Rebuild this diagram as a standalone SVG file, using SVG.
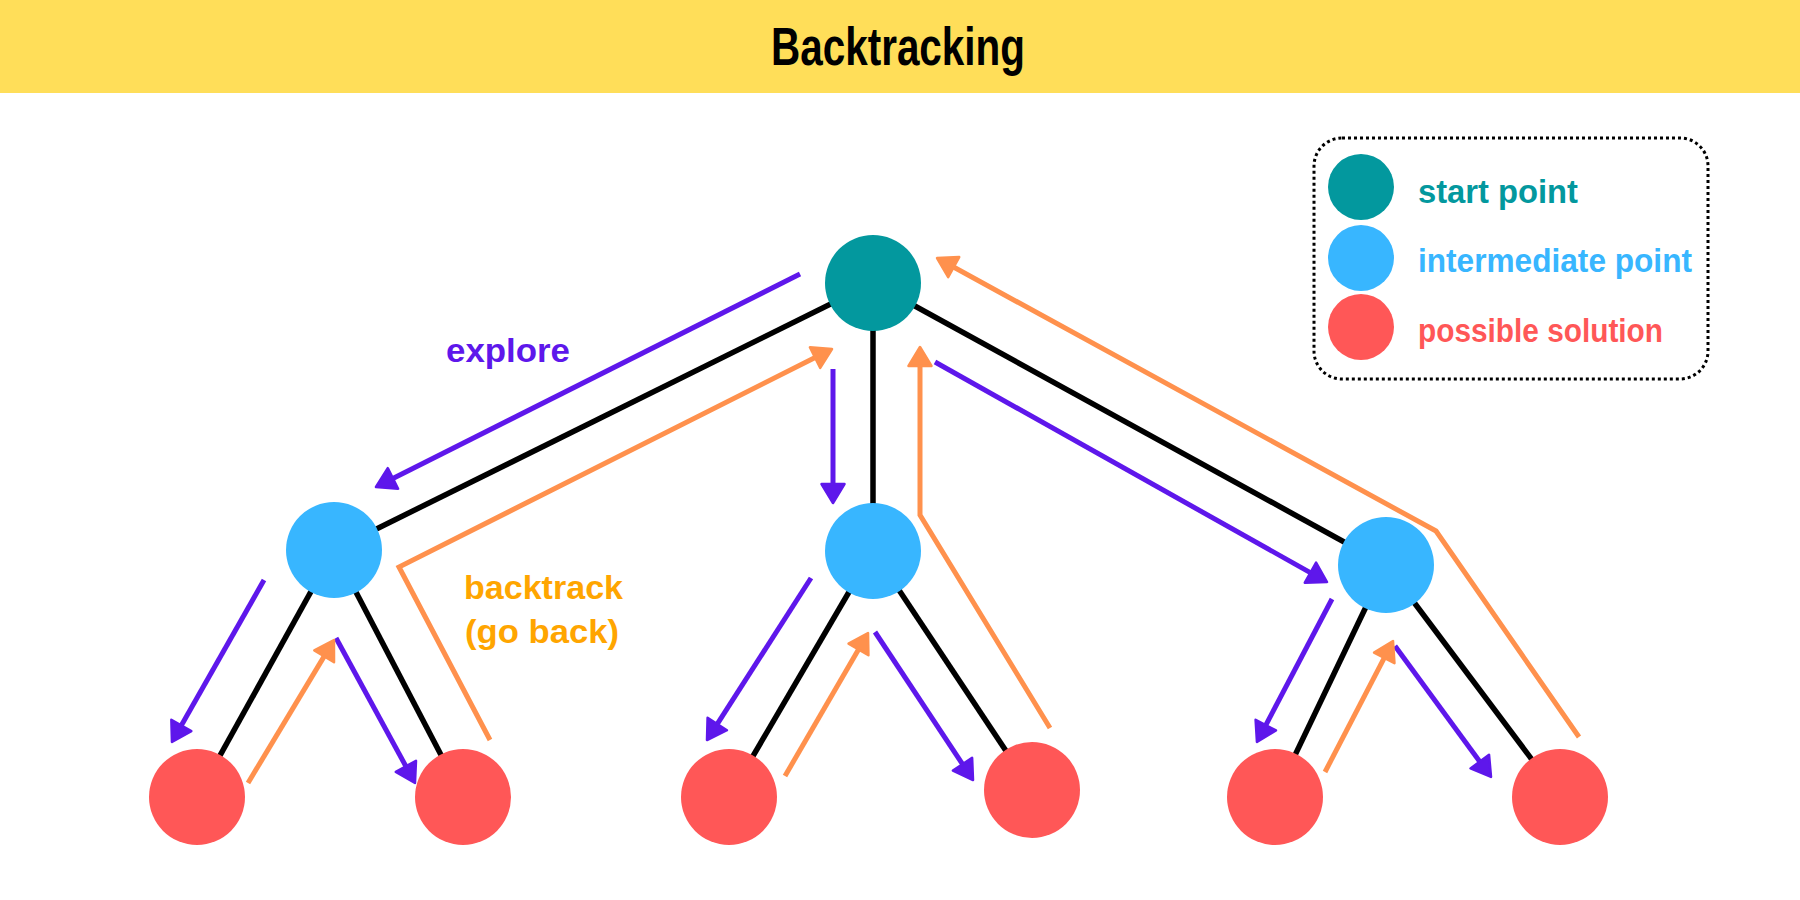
<svg xmlns="http://www.w3.org/2000/svg" width="1800" height="900" viewBox="0 0 1800 900">
  <style>
    .edge { stroke: #000000; stroke-width: 5.5; fill: none; }
    .exp { stroke: #5E17EB; stroke-width: 5; fill: none; marker-end: url(#headP); }
    .back { stroke: #FF914D; stroke-width: 5; fill: none; stroke-linejoin: miter; marker-end: url(#headO); }
    .start { fill: #03989E; }
    .mid { fill: #38B6FF; }
    .sol { fill: #FF5757; }
    .lbl { font-family: "Liberation Sans", Arial, sans-serif; font-weight: bold; }
  </style>
  <defs>
    <marker id="headP" markerUnits="userSpaceOnUse" orient="auto" refX="9" refY="13" markerWidth="26" markerHeight="28" overflow="visible">
      <path d="M0,1.5 L19,13 L0,24.5 Z" fill="#5E17EB" stroke="#5E17EB" stroke-width="2.5" stroke-linejoin="round"/>
    </marker>
    <marker id="headO" markerUnits="userSpaceOnUse" orient="auto" refX="9" refY="13" markerWidth="26" markerHeight="28" overflow="visible">
      <path d="M0,1.5 L19,13 L0,24.5 Z" fill="#FF914D" stroke="#FF914D" stroke-width="2.5" stroke-linejoin="round"/>
    </marker>
  </defs>

  <g id="title">
    <rect x="0" y="0" width="1800" height="93" fill="#FFDE59"/>
    <text class="lbl" x="898" y="65" font-size="54" text-anchor="middle" textLength="254" lengthAdjust="spacingAndGlyphs" fill="#000000">Backtracking</text>
  </g>

  <g id="connectors">
    <!-- tree edges -->
    <line class="edge" x1="873" y1="283" x2="334" y2="550"/>
    <line class="edge" x1="873" y1="283" x2="873" y2="551"/>
    <line class="edge" x1="873" y1="283" x2="1386" y2="565"/>
    <line class="edge" x1="334" y1="550" x2="197" y2="797"/>
    <line class="edge" x1="334" y1="550" x2="463" y2="797"/>
    <line class="edge" x1="873" y1="551" x2="729" y2="797"/>
    <line class="edge" x1="873" y1="551" x2="1032" y2="790"/>
    <line class="edge" x1="1386" y1="565" x2="1275" y2="797"/>
    <line class="edge" x1="1386" y1="565" x2="1560" y2="797"/>

    <!-- explore arrows -->
    <line class="exp" x1="800" y1="274" x2="384.9" y2="482.5"/>
    <line class="exp" x1="833" y1="369" x2="833" y2="493"/>
    <line class="exp" x1="935" y1="362" x2="1318.3" y2="577.1"/>
    <line class="exp" x1="264" y1="580" x2="176.9" y2="733.3"/>
    <line class="exp" x1="336" y1="638" x2="410.2" y2="774.2"/>
    <line class="exp" x1="811" y1="578" x2="712.4" y2="731.6"/>
    <line class="exp" x1="875" y1="632" x2="967.5" y2="771.7"/>
    <line class="exp" x1="1332" y1="599" x2="1261.6" y2="733.1"/>
    <line class="exp" x1="1395" y1="646" x2="1485.1" y2="768.9"/>

    <!-- backtrack arrows -->
    <polyline class="back" points="490,740 399,567 823.1,353.5"/>
    <polyline class="back" points="1050,728 920,515 920,357"/>
    <polyline class="back" points="1579,737 1436,531 945.8,262.8"/>
    <line class="back" x1="248" y1="783" x2="328.8" y2="648.6"/>
    <line class="back" x1="785" y1="776" x2="863" y2="641.7"/>
    <line class="back" x1="1325" y1="772" x2="1388.4" y2="649.9"/>
  </g>

  <g id="root"><circle class="start" cx="873" cy="283" r="48"/></g>
  <g id="mid-left"><circle class="mid" cx="334" cy="550" r="48"/></g>
  <g id="mid-center"><circle class="mid" cx="873" cy="551" r="48"/></g>
  <g id="mid-right"><circle class="mid" cx="1386" cy="565" r="48"/></g>
  <g id="leaf-1"><circle class="sol" cx="197" cy="797" r="48"/></g>
  <g id="leaf-2"><circle class="sol" cx="463" cy="797" r="48"/></g>
  <g id="leaf-3"><circle class="sol" cx="729" cy="797" r="48"/></g>
  <g id="leaf-4"><circle class="sol" cx="1032" cy="790" r="48"/></g>
  <g id="leaf-5"><circle class="sol" cx="1275" cy="797" r="48"/></g>
  <g id="leaf-6"><circle class="sol" cx="1560" cy="797" r="48"/></g>

  <g id="label-explore">
    <text class="lbl" x="446" y="362" font-size="34" textLength="124" lengthAdjust="spacingAndGlyphs" fill="#5E17EB">explore</text>
  </g>
  <g id="label-backtrack">
    <text class="lbl" x="464" y="599" font-size="34" textLength="159" lengthAdjust="spacingAndGlyphs" fill="#FFA500">backtrack</text>
    <text class="lbl" x="465" y="643" font-size="34" textLength="154" lengthAdjust="spacingAndGlyphs" fill="#FFA500">(go back)</text>
  </g>

  <g id="legend">
    <rect x="1314" y="138" width="394" height="241" rx="28" ry="28" fill="none" stroke="#000000" stroke-width="3" stroke-dasharray="3 3"/>
    <circle class="start" cx="1361" cy="187" r="33"/>
    <circle class="mid" cx="1361" cy="258" r="33"/>
    <circle class="sol" cx="1361" cy="327" r="33"/>
    <text class="lbl" x="1418" y="203" font-size="34" textLength="160" lengthAdjust="spacingAndGlyphs" fill="#03989E">start point</text>
    <text class="lbl" x="1418" y="272" font-size="34" textLength="274" lengthAdjust="spacingAndGlyphs" fill="#38B6FF">intermediate point</text>
    <text class="lbl" x="1418" y="342" font-size="34" textLength="245" lengthAdjust="spacingAndGlyphs" fill="#FF5757">possible solution</text>
  </g>
</svg>
